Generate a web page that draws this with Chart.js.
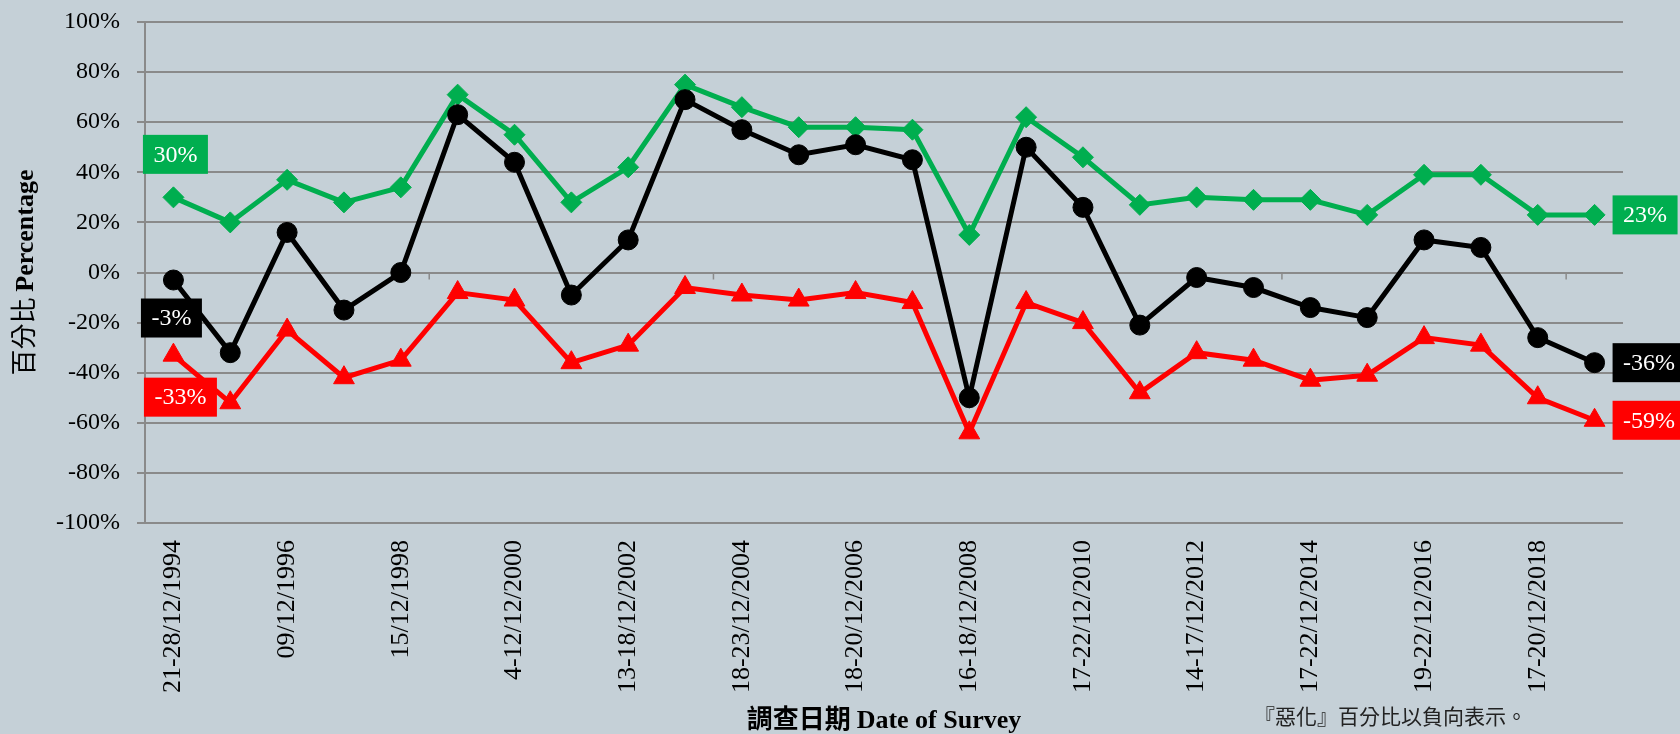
<!DOCTYPE html>
<html lang="zh-Hant">
<head>
  <meta charset="UTF-8" />
  <title>調查日期 Date of Survey</title>
  <script src="https://cdn.jsdelivr.net/npm/chart.js"></script>
  <style>
    body {
      margin: 0;
      background: #c5d0d7;
    }
    .chart-wrap {
      position: relative;
      width: 1680px;
      height: 734px;
    }
  </style>
</head>
<body>

  <div class="chart-wrap">
    <canvas id="surveyChart"></canvas>
  </div>

  <script>
    // survey dates (only every second one is printed on the axis)
    const surveyDates = [
      '21-28/12/1994', '12/1995', '09/12/1996', '12/1997', '15/12/1998', '12/1999',
      '4-12/12/2000', '12/2001', '13-18/12/2002', '12/2003', '18-23/12/2004', '12/2005',
      '18-20/12/2006', '12/2007', '16-18/12/2008', '12/2009', '17-22/12/2010', '12/2011',
      '14-17/12/2012', '12/2013', '17-22/12/2014', '12/2015', '19-22/12/2016', '12/2017',
      '17-20/12/2018', '12/2019'
    ];

    // percentages
    const betterPct = [30, 20, 37, 28, 34, 71, 55, 28, 42, 75, 66, 58, 58, 57, 15, 62, 46, 27, 30, 29, 29, 23, 39, 39, 23, 23];
    const netPct    = [-3, -32, 16, -15, 0, 63, 44, -9, 13, 69, 57, 47, 51, 45, -50, 50, 26, -21, -2, -6, -14, -18, 13, 10, -26, -36];
    const worsePct  = [-33, -52, -23, -42, -35, -8, -11, -36, -29, -6, -9, -11, -8, -12, -64, -12, -20, -48, -32, -35, -43, -41, -26, -29, -50, -59];

    const percentTicks = [-100, -80, -60, -40, -20, 0, 20, 40, 60, 80, 100];

    const SERIF = "'Liberation Serif', 'Times New Roman', serif";
    const CJK = "'Noto Sans CJK TC', 'Noto Sans CJK SC', sans-serif";
    const gridColor = '#8a8a8a';

    // draw a string made of differently styled parts, centred on (cx, y)
    function drawParts(ctx, parts, cx, y) {
      let total = 0;
      parts.forEach(p => {
        ctx.font = p.font;
        p.w = ctx.measureText(p.text).width;
        total += p.w;
      });
      let x = cx - total / 2;
      parts.forEach(p => {
        ctx.font = p.font;
        ctx.fillText(p.text, x, y);
        x += p.w;
      });
    }

    // small tick marks on the zero line, every 5 categories
    const zeroTicks = {
      id: 'zeroTicks',
      beforeDatasetsDraw(chart) {
        const { ctx, scales: { x, y } } = chart;
        const half = (x.getPixelForValue(1) - x.getPixelForValue(0)) / 2;
        const y0 = y.getPixelForValue(0);
        ctx.save();
        ctx.strokeStyle = gridColor;
        ctx.lineWidth = 1.5;
        for (let k = 5; k < surveyDates.length; k += 5) {
          const px = x.getPixelForValue(k) - half;
          ctx.beginPath();
          ctx.moveTo(px, y0);
          ctx.lineTo(px, y0 + 7);
          ctx.stroke();
        }
        ctx.restore();
      }
    };

    // boxed value labels at the first and last points
    const endLabels = {
      id: 'endLabels',
      afterDatasetsDraw(chart) {
        const ctx = chart.ctx;
        chart.data.datasets.forEach((ds, di) => {
          const meta = chart.getDatasetMeta(di);
          (ds.endLabels || []).forEach(s => {
            const pt = meta.data[s.index];
            const text = ds.data[s.index] + '%';
            ctx.save();
            ctx.font = '24px ' + SERIF;
            const w = ctx.measureText(text).width + 21;
            const h = 39;
            let left;
            if (s.side === 'right') {
              left = pt.x + s.dx;
            } else {
              left = pt.x + s.dx - w / 2;
            }
            const top = pt.y + s.dy - h / 2;
            ctx.fillStyle = ds.borderColor;
            ctx.fillRect(left, top, w, h);
            ctx.fillStyle = '#ffffff';
            ctx.textAlign = 'center';
            ctx.textBaseline = 'middle';
            ctx.fillText(text, left + w / 2, top + h / 2 + 1);
            ctx.restore();
          });
        });
      }
    };

    // axis titles and footnote
    const titles = {
      id: 'titles',
      afterDraw(chart) {
        const { ctx, chartArea } = chart;
        ctx.save();
        ctx.fillStyle = '#000';
        ctx.textAlign = 'left';
        ctx.textBaseline = 'alphabetic';

        drawParts(ctx, [
          { text: '調查日期 ', font: 'bold 26px ' + CJK },
          { text: 'Date of Survey', font: 'bold 26px ' + SERIF }
        ], (chartArea.left + chartArea.right) / 2, 728);

        ctx.save();
        ctx.translate(33, (chartArea.top + chartArea.bottom) / 2);
        ctx.rotate(-Math.PI / 2);
        drawParts(ctx, [
          { text: '百分比 ', font: '26px ' + CJK },
          { text: 'Percentage', font: 'bold 26px ' + SERIF }
        ], 0, 0);
        ctx.restore();

        ctx.fillStyle = '#222';
        ctx.font = '21px ' + CJK;
        ctx.textBaseline = 'middle';
        ctx.fillText('『惡化』百分比以負向表示。', 1254, 716);
        ctx.restore();
      }
    };

    const ctx = document.getElementById('surveyChart').getContext('2d');
    new Chart(ctx, {
      type: 'line',
      data: {
        labels: surveyDates,
        datasets: [
          {
            label: '淨值',
            data: netPct,
            borderColor: '#000000',
            backgroundColor: '#000000',
            borderWidth: 5,
            pointStyle: 'circle',
            pointRadius: 10,
            pointBorderWidth: 1,
            order: 0,
            endLabels: [
              { index: 0, dx: -2, dy: 38 },
              { index: netPct.length - 1, side: 'right', dx: 18, dy: 0 }
            ]
          },
          {
            label: '好轉',
            data: betterPct,
            borderColor: '#00ae4f',
            backgroundColor: '#00ae4f',
            borderWidth: 5,
            pointStyle: 'rectRot',
            pointRadius: 10.5,
            pointBorderWidth: 1,
            order: 1,
            endLabels: [
              { index: 0, dx: 2, dy: -43 },
              { index: betterPct.length - 1, side: 'right', dx: 18, dy: 0 }
            ]
          },
          {
            label: '惡化',
            data: worsePct,
            borderColor: '#ff0000',
            backgroundColor: '#ff0000',
            borderWidth: 5,
            pointStyle: 'triangle',
            pointRadius: 12,
            pointBorderWidth: 1,
            order: 2,
            endLabels: [
              { index: 0, dx: 7, dy: 42 },
              { index: worsePct.length - 1, side: 'right', dx: 18, dy: 0 }
            ]
          }
        ]
      },
      options: {
        responsive: true,
        maintainAspectRatio: false,
        animation: false,
        layout: { padding: { left: 0, top: 22, right: 57, bottom: 0 } },
        plugins: {
          legend: { display: false },
          tooltip: { enabled: false }
        },
        scales: {
          x: {
            offset: true,
            grid: { display: false, drawTicks: false, offset: true },
            border: { display: false },
            afterFit: s => {
              s.height = 211;
              s.paddingTop = 0;
              s.paddingBottom = 0;
            },
            ticks: {
              autoSkip: false,
              minRotation: 90,
              maxRotation: 90,
              padding: 17,
              color: '#000',
              font: { family: SERIF, size: 26 },
              callback: function (v, i) { return i % 2 === 0 ? this.getLabelForValue(v) : ''; }
            }
          },
          y: {
            min: -100,
            max: 100,
            afterFit: s => {
              s.width = 145;
              s.paddingTop = 0;
              s.paddingBottom = 0;
            },
            afterBuildTicks: s => { s.ticks = percentTicks.map(v => ({ value: v })); },
            grid: { color: gridColor, lineWidth: 2, tickLength: 8 },
            border: { display: true, color: gridColor, width: 2 },
            ticks: {
              padding: 17,
              color: '#000',
              font: { family: SERIF, size: 24 },
              callback: v => v + '%'
            }
          }
        }
      },
      plugins: [zeroTicks, endLabels, titles]
    });
  </script>

</body>
</html>
